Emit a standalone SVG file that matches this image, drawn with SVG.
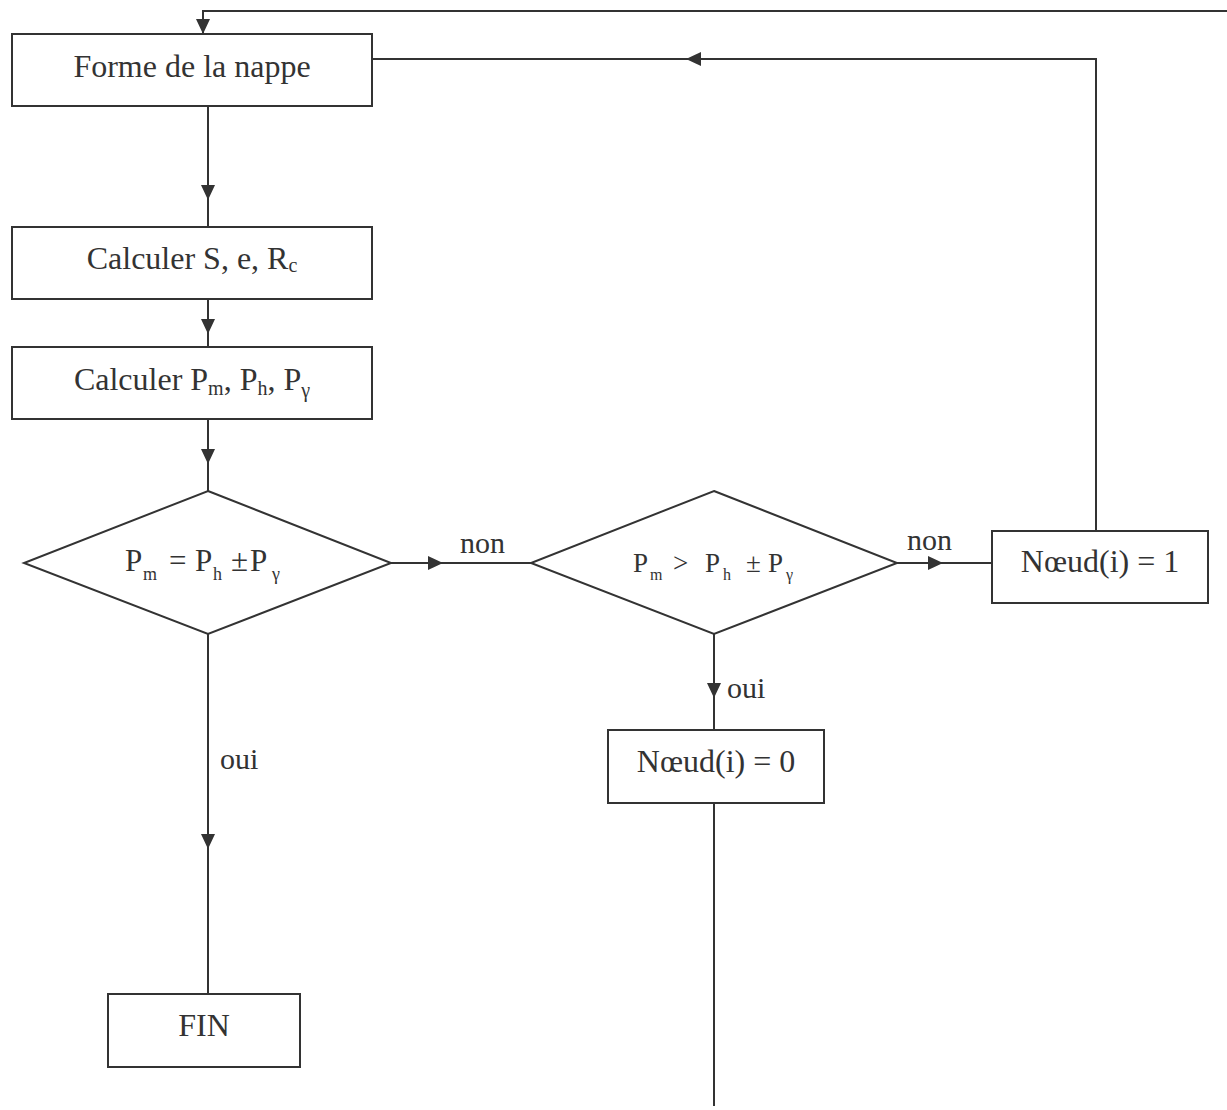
<svg xmlns="http://www.w3.org/2000/svg" width="1227" height="1110" viewBox="0 0 1227 1110">
<style>
.n{fill:#fff;stroke:#333;stroke-width:2}
.c{fill:none;stroke:#333;stroke-width:2}
.t{font-family:"Liberation Serif","Times New Roman",serif;font-size:32px;fill:#333}
.s{font-size:20px}
.a{fill:#333}
</style>
<rect width="1227" height="1110" fill="#fff"/>
<g id="connectors">
<polyline class="c" points="1227,11 203,11 203,34"/>
<polygon class="a" points="196,19 210,19 203,34"/>
<polyline class="c" points="372,59 1096,59 1096,531"/>
<polygon class="a" points="686,59 701,52 701,66"/>
<line class="c" x1="208" y1="107" x2="208" y2="227"/>
<polygon class="a" points="201,185 215,185 208,200"/>
<line class="c" x1="208" y1="299" x2="208" y2="347"/>
<polygon class="a" points="201,319 215,319 208,334"/>
<line class="c" x1="208" y1="419" x2="208" y2="491"/>
<polygon class="a" points="201,449 215,449 208,464"/>
<line class="c" x1="391" y1="563" x2="531" y2="563"/>
<polygon class="a" points="443,563 428,556 428,570"/>
<line class="c" x1="897" y1="563" x2="992" y2="563"/>
<polygon class="a" points="943,563 928,556 928,570"/>
<line class="c" x1="714" y1="634" x2="714" y2="730"/>
<polygon class="a" points="707,683 721,683 714,698"/>
<line class="c" x1="714" y1="803" x2="714" y2="1106"/>
<line class="c" x1="208" y1="634" x2="208" y2="994"/>
<polygon class="a" points="201,834 215,834 208,849"/>
<text class="t" x="460" y="553" style="font-size:30px">non</text>
<text class="t" x="907" y="550" style="font-size:30px">non</text>
<text class="t" x="727" y="698" style="font-size:30px">oui</text>
<text class="t" x="220" y="769" style="font-size:30px">oui</text>
</g>
<g id="forme">
<rect class="n" x="12" y="34" width="360" height="72"/>
<text class="t" x="192" y="77" text-anchor="middle">Forme de la nappe</text>
</g>
<g id="calc1">
<rect class="n" x="12" y="227" width="360" height="72"/>
<text class="t" x="192" y="269" text-anchor="middle">Calculer S, e, R<tspan class="s" dy="3">c</tspan></text>
</g>
<g id="calc2">
<rect class="n" x="12" y="347" width="360" height="72"/>
<text class="t" x="192" y="390" text-anchor="middle">Calculer P<tspan class="s" dy="5">m</tspan><tspan dy="-5">, P</tspan><tspan class="s" dy="5">h</tspan><tspan dy="-5">,  P</tspan><tspan class="s" dy="7">γ</tspan></text>
</g>
<g id="dec1">
<polygon class="n" points="208,491 391,563 208,634 24,563"/>
<text class="t" y="571" style="font-size:31px"><tspan x="125">P</tspan><tspan x="143" y="580" class="s" style="font-size:18px">m</tspan><tspan x="169" y="571">=</tspan><tspan x="195">P</tspan><tspan x="213" y="580" class="s" style="font-size:18px">h</tspan><tspan x="231" y="571">±</tspan><tspan x="250">P</tspan><tspan x="272" y="580" class="s" style="font-size:18px">γ</tspan></text>
</g>
<g id="dec2">
<polygon class="n" points="714,491 897,563 714,634 531,563"/>
<text class="t" y="572" style="font-size:27px"><tspan x="633">P</tspan><tspan x="650" y="580" class="s" style="font-size:16px">m</tspan><tspan x="673" y="572">&gt;</tspan><tspan x="705">P</tspan><tspan x="723" y="580" class="s" style="font-size:16px">h</tspan><tspan x="746" y="572">±</tspan><tspan x="768">P</tspan><tspan x="786" y="580" class="s" style="font-size:16px">γ</tspan></text>
</g>
<g id="noeud1">
<rect class="n" x="992" y="531" width="216" height="72"/>
<text class="t" x="1100" y="572" text-anchor="middle">Nœud(i) = 1</text>
</g>
<g id="noeud0">
<rect class="n" x="608" y="730" width="216" height="73"/>
<text class="t" x="716" y="772" text-anchor="middle">Nœud(i) = 0</text>
</g>
<g id="fin">
<rect class="n" x="108" y="994" width="192" height="73"/>
<text class="t" x="204" y="1036" text-anchor="middle">FIN</text>
</g>
</svg>
